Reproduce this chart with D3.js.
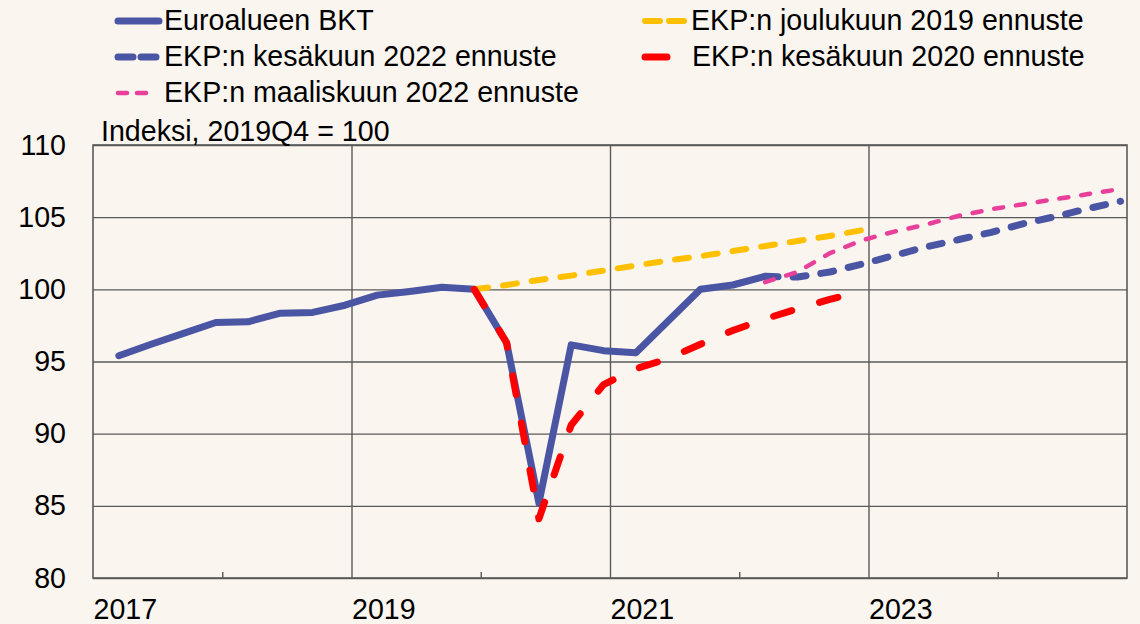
<!DOCTYPE html>
<html>
<head>
<meta charset="utf-8">
<script src="https://cdn.jsdelivr.net/npm/d3@7"></script>
<style>
  html, body { margin: 0; padding: 0; background: #faf5ef; }
  svg { display: block; font-family: "Liberation Sans", Arial, sans-serif; }
</style>
</head>
<body>
<svg width="1140" height="624"></svg>
<script>
// quarterly GDP index, 2019Q4 = 100
let gdpStart = "2017Q1";
let gdpValues = [95.4, 96.2, 96.95, 97.7, 97.75, 98.35, 98.4, 98.9, 99.6, 99.85, 100.15, 100.0,
                 96.3, 85.2, 96.15, 95.75, 95.6, 97.8, 100.0, 100.3, 100.9];

let jun22Start = "2022Q1";
let jun22Values = [100.9, 100.85, 101.2, 101.75, 102.35, 102.95, 103.45, 103.95, 104.55, 105.05, 105.6, 106.1];

let mar22Start = "2022Q1";
let mar22Values = [100.5, 101.2, 102.5, 103.4, 104.0, 104.5, 105.1, 105.55, 105.9, 106.25, 106.6, 106.95];

let dec19Start = "2019Q4";
let dec19Values = [100.0, 100.3, 100.65, 100.95, 101.3, 101.65, 102.0, 102.3, 102.65, 103.0, 103.35, 103.7, 104.1];

let jun20Start = "2019Q4";
let jun20Values = [100.0, 96.3, 84.1, 90.6, 93.4, 94.5, 95.2, 96.2, 97.15, 97.95, 98.65, 99.3, 99.9];

let yTicks = [80, 85, 90, 95, 100, 105, 110];
let yearLabels = [2017, 2019, 2021, 2023];
let gridYears = [2019, 2021, 2023];
let minorYears = [2018, 2020, 2022, 2024];

let legendNames = ["Euroalueen BKT", "EKP:n kesäkuun 2022 ennuste", "EKP:n maaliskuun 2022 ennuste",
                   "EKP:n joulukuun 2019 ennuste", "EKP:n kesäkuun 2020 ennuste"];

let margin = {top: 145, right: 13, bottom: 46, left: 93};
let width = 1140 - margin.left - margin.right;
let height = 624 - margin.top - margin.bottom;
let fontSize = 28.6;

var svg = d3.select("svg");
var g = svg.append("g").attr("transform", "translate(" + margin.left + "," + margin.top + ")");

var x = d3.scaleLinear().domain([2017, 2025]).range([0, width]);
var y = d3.scaleLinear().domain([80, 110]).range([height, 0]);

// "2019Q4" + index -> decimal year where the point sits
function quarterPos(start, i) {
    let yr = +start.slice(0, 4);
    let q = +start.slice(5) - 1 + i;
    return yr + Math.floor(q / 4) + ((q % 4) + 0.8) / 4;
}
function toPoints(start, values) {
    return values.map(function(v, i) { return {t: quarterPos(start, i), v: v}; });
}

var series = [
    {name: legendNames[0], data: toPoints(gdpStart, gdpValues), color: "#4a55a3", width: 7, dash: null},
    {name: legendNames[1], data: toPoints(jun22Start, jun22Values), color: "#4a55a3", width: 7, dash: "13,15"},
    {name: legendNames[2], data: toPoints(mar22Start, mar22Values), color: "#e8409a", width: 4.5, dash: "9,13"},
    {name: legendNames[3], data: toPoints(dec19Start, dec19Values), color: "#ffc000", width: 6, dash: "14,15"},
    {name: legendNames[4], data: toPoints(jun20Start, jun20Values), color: "#ff0000", width: 7, dash: "19,29"}
];

// horizontal grid
g.append("g")
  .call(d3.axisLeft(y).tickValues(yTicks).tickSize(-width).tickFormat(""))
  .call(function(s) { s.select(".domain").remove(); })
  .selectAll("line").attr("stroke", "#5a5a5a").attr("stroke-width", 1.4);

// vertical grid
g.append("g")
  .attr("transform", "translate(0," + height + ")")
  .call(d3.axisBottom(x).tickValues(gridYears).tickSize(-height).tickFormat(""))
  .call(function(s) { s.select(".domain").remove(); })
  .selectAll("line").attr("stroke", "#5a5a5a").attr("stroke-width", 1.4);

// minor ticks on the bottom axis
g.append("g")
  .attr("transform", "translate(0," + height + ")")
  .call(d3.axisBottom(x).tickValues(minorYears).tickSize(-6).tickFormat(""))
  .call(function(s) { s.select(".domain").remove(); })
  .selectAll("line").attr("stroke", "#5a5a5a").attr("stroke-width", 1.4);

// plot frame
g.append("rect")
  .attr("width", width).attr("height", height)
  .attr("fill", "none").attr("stroke", "#5a5a5a").attr("stroke-width", 1.6);

// y labels
g.append("g")
  .call(d3.axisLeft(y).tickValues(yTicks).tickSize(0).tickPadding(27))
  .call(function(s) { s.select(".domain").remove(); })
  .selectAll("text")
  .attr("font-size", fontSize).attr("fill", "#000").attr("font-family", "Liberation Sans, Arial, sans-serif");

// x labels
g.append("g")
  .attr("transform", "translate(0," + height + ")")
  .call(d3.axisBottom(x).tickValues(yearLabels).tickSize(0).tickFormat(d3.format("d")))
  .call(function(s) { s.select(".domain").remove(); })
  .selectAll("text")
  .attr("text-anchor", "start")
  .attr("dx", 0)
  .attr("dy", 0)
  .attr("y", 41)
  .attr("font-size", fontSize).attr("fill", "#000").attr("font-family", "Liberation Sans, Arial, sans-serif");

var line = d3.line()
    .x(function(d) { return x(d.t); })
    .y(function(d) { return y(d.v); });

series.forEach(function(s) {
    g.append("path")
      .datum(s.data)
      .attr("fill", "none")
      .attr("stroke", s.color)
      .attr("stroke-width", s.width)
      .attr("stroke-linejoin", "round")
      .attr("stroke-linecap", "round")
      .attr("stroke-dasharray", s.dash)
      .attr("d", line);
});

// axis title
svg.append("text")
  .attr("x", 101).attr("y", 141)
  .attr("font-size", fontSize).attr("fill", "#000")
  .text("Indeksi, 2019Q4 = 100");

// legend: two columns
var legendPos = [
    {x: 115, y: 21}, {x: 115, y: 57}, {x: 115, y: 93},
    {x: 642, y: 21}, {x: 642, y: 57}
];
var legendDash = [null, "15,8", "9,10", "15,9", null];
var legendLen = [47, 47, 36, 47, 28];

series.forEach(function(s, i) {
    var p = legendPos[i];
    var lg = svg.append("g").attr("transform", "translate(" + p.x + "," + p.y + ")");
    lg.append("line")
      .attr("x1", 3).attr("x2", legendLen[i] - 3)
      .attr("y1", 0).attr("y2", 0)
      .attr("stroke", s.color)
      .attr("stroke-width", s.width)
      .attr("stroke-linecap", "round")
      .attr("stroke-dasharray", legendDash[i]);
    lg.append("text")
      .attr("x", i < 4 ? 49 : 50)
      .attr("y", 9)
      .attr("font-size", fontSize)
      .attr("fill", "#000")
      .text(s.name);
});
</script>
</body>
</html>
